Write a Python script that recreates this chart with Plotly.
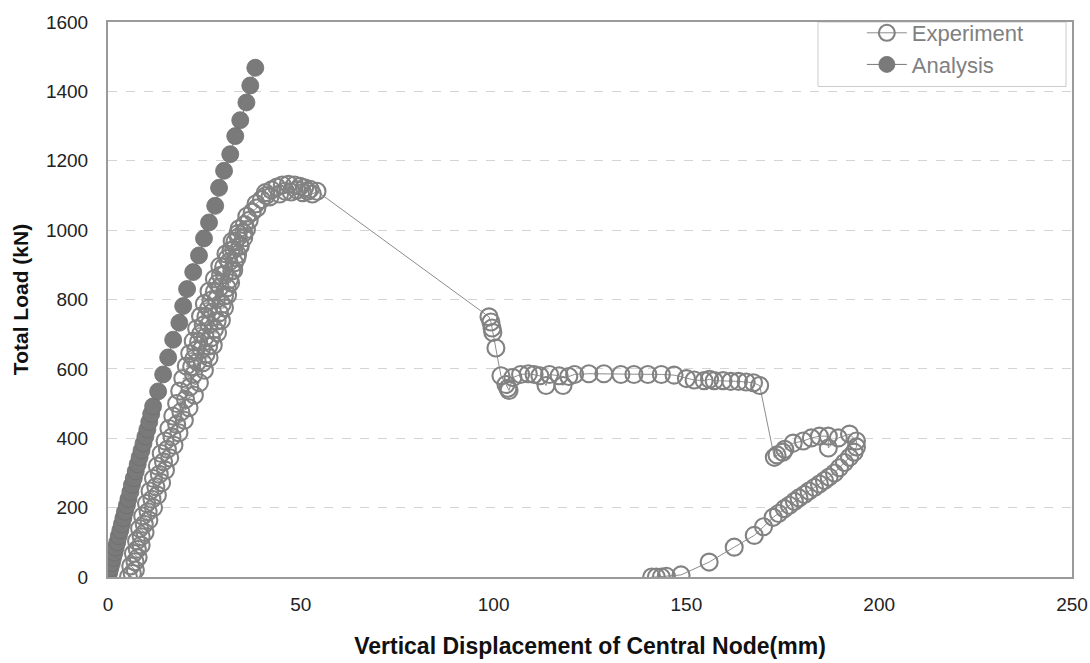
import plotly.graph_objects as go

# ---------------- data ----------------
exp_x = [5.3, 6.3, 7.1, 5.9, 7.0, 7.8, 6.6, 7.6, 8.6, 7.4, 8.6, 9.6, 8.2, 9.4, 10.6, 9.0, 10.4, 11.8,
         10.0, 11.4, 12.8, 10.9, 12.4, 13.9, 11.8, 13.3, 14.9, 12.8, 14.4, 16.0, 13.8, 15.4, 17.1,
         14.8, 16.6, 18.4, 15.8, 17.8, 19.8, 16.8, 18.9, 21.0, 17.8, 20.1, 22.4, 18.6, 21.2, 23.7,
         19.4, 22.2, 25.0,
         21.7, 20.3, 24.6, 23.2, 22.3, 26.2, 25.4, 21.2, 22.8, 24.2, 26.1, 27.3, 23.5, 22.1, 26.8, 25.2,
         24.1, 28.4, 27.6, 23.0, 24.7, 26.2, 28.3, 29.4, 25.4, 24.0, 28.9, 27.1, 26.1, 30.2, 29.6, 25.0,
         26.7, 28.1, 30.2, 31.0, 27.6, 26.2, 30.9, 29.1, 28.4, 31.8, 31.5, 27.6, 29.2, 30.2, 32.1, 32.6,
         30.0, 29.0, 32.8, 31.4, 30.9, 33.4, 33.6, 30.6, 31.9, 32.6, 34.3, 34.2, 32.9, 32.2, 35.2, 33.8,
         33.7, 35.2, 35.9, 34.0,
         35.4, 36.6, 36.0, 37.4, 38.6, 38.4, 39.8, 41.0,
         40.8, 42.0, 42.4, 43.8, 44.5, 45.2, 46.0, 46.8, 47.5, 48.4, 49.0, 49.8, 50.5, 51.0, 51.8, 52.4, 53.0, 54.2,
         98.8, 99.3, 99.6, 99.8, 100.6, 101.9, 103.2, 103.7, 104.0, 105.0, 107.0, 109.0, 110.5,
         112.0, 113.6, 114.5, 117.0, 118.0, 119.5, 121.0, 124.7, 128.6, 133.0, 136.4, 140.0,
         143.5, 146.8, 150.0, 152.0, 154.6, 156.0, 157.2, 159.5, 161.5, 163.5, 165.5, 167.4, 169.0,
         172.8, 173.5, 175.0, 175.5, 177.7, 180.3, 182.4, 184.5, 186.8, 186.8, 189.4, 192.3, 194.1,
         194.1, 193.5, 192.3, 191.0, 189.7, 188.4, 187.0, 185.8, 184.5, 183.2, 181.8, 180.6, 179.2,
         178.0, 176.7, 175.4, 173.9, 172.5, 170.0, 167.6, 162.4, 155.9, 148.6, 144.8, 143.5, 142.2, 141.0]
exp_y = [0, 10, 20, 32, 44, 56, 68, 80, 92, 104, 116, 128, 140, 152, 164, 176, 188, 200,
         212, 224, 236, 248, 260, 272, 284, 296, 308, 320, 332, 344, 356, 368, 380,
         392, 404, 416, 428, 440, 452, 464, 476, 488, 500, 512, 524, 536, 548, 560,
         572, 584, 596,
         606, 608, 618, 620, 630, 632, 642, 644, 654, 656, 666, 668, 678, 680, 690, 692,
         702, 704, 714, 716, 726, 728, 738, 740, 750, 752, 762, 764, 774, 776, 786, 788,
         798, 800, 810, 812, 822, 824, 834, 836, 846, 848, 858, 860, 870, 872, 882, 884,
         894, 896, 906, 908, 918, 920, 930, 932, 942, 944, 954, 956, 966, 968, 978, 980,
         990, 992, 1002, 1004,
         1016, 1028, 1040, 1052, 1064, 1076, 1088, 1100,
         1108, 1096, 1116, 1124, 1104, 1130, 1112, 1132, 1110, 1130, 1116, 1126, 1108, 1122, 1112, 1118, 1104, 1112,
         750, 735, 718, 705, 660, 580, 555, 544, 538, 575, 584, 586, 584,
         580, 552, 584, 580, 552, 578, 584, 586, 586, 584, 584, 584,
         584, 582, 572, 568, 566, 570, 566, 566, 564, 564, 562, 560, 552,
         345, 352, 360, 368, 386, 392, 401, 406, 406, 372, 401, 412, 392,
         375, 360, 345, 330, 315, 300, 288, 278, 268, 258, 248, 238, 228,
         218, 207, 197, 183, 172, 145, 120, 86, 43, 6, 2, 0, 0, 0]

ana_x = [0.0, 0.3, 0.6, 1.0, 1.3, 1.7, 2.0, 2.4, 2.8, 3.2, 3.6, 4.0, 4.4, 4.9, 5.3, 5.8, 6.2, 6.7,
         7.2, 7.7, 8.2, 8.7, 9.2, 9.7, 10.2, 10.7, 11.2, 11.7, 13.0, 14.3, 15.6, 16.9, 18.5, 19.5,
         20.5, 22.1, 23.6, 24.9, 26.2, 27.8, 28.8, 30.1, 31.7, 33.0, 34.3, 35.9, 36.9, 38.2]
ana_y = [0, 12, 25, 40, 55, 70, 85, 100, 118, 135, 152, 170, 188, 207, 225, 245, 265, 285,
         305, 325, 345, 365, 385, 405, 425, 447, 470, 492, 535, 584, 633, 684, 733, 781,
         830, 879, 927, 976, 1022, 1070, 1122, 1171, 1219, 1271, 1317, 1368, 1417, 1468]

x_ticks = [0, 50, 100, 150, 200, 250]
y_ticks = [0, 200, 400, 600, 800, 1000, 1200, 1400, 1600]

FONT = "Arial, Liberation Sans, sans-serif"

fig = go.Figure()
fig.add_trace(go.Scatter(
    x=exp_x, y=exp_y, name="Experiment", mode="lines+markers",
    line=dict(color="#8c8c8c", width=1),
    marker=dict(symbol="circle-open", size=17, color="#828282", line=dict(width=2.1, color="#828282")),
))
fig.add_trace(go.Scatter(
    x=ana_x, y=ana_y, name="Analysis", mode="lines+markers",
    line=dict(color="#777777", width=1),
    marker=dict(symbol="circle", size=17, color="#7a7a7a", line=dict(width=0.8, color="#6e6e6e")),
))

fig.update_layout(
    width=1090, height=663,
    margin=dict(l=108, r=18, t=18, b=86),
    paper_bgcolor="white", plot_bgcolor="white",
    font=dict(family=FONT, color="#222222"),
    showlegend=True,
    legend=dict(x=0.782, xanchor="left", y=1.018, yanchor="top",
                font=dict(size=22, color="#808080", family=FONT),
                bgcolor="rgba(0,0,0,0)", borderwidth=0,
                tracegroupgap=0, itemwidth=40),
    shapes=[dict(type="rect", xref="paper", yref="paper", x0=0.7365, x1=0.9938, y0=0.8837, y1=1.0,
                 line=dict(color="#cccccc", width=1), fillcolor="rgba(0,0,0,0)", layer="below")],
)
fig.update_xaxes(
    range=[0, 250], tickvals=x_ticks, showgrid=False, zeroline=False, automargin=False,
    showline=True, linecolor="#9a9a9a", linewidth=2, mirror=True,
    ticks="outside", ticklen=9, tickcolor="rgba(0,0,0,0)",
    tickfont=dict(size=19, family=FONT, color="#222222"),
    title=dict(text="<b>Vertical Displacement of Central Node(mm)</b>", font=dict(size=23, family=FONT, color="#111111"), standoff=24),
)
fig.update_yaxes(
    range=[0, 1600], tickvals=y_ticks, showgrid=True, gridcolor="#d4d4d4", griddash="dash", gridwidth=1,
    zeroline=False, automargin=False, showline=True, linecolor="#9a9a9a", linewidth=2, mirror=True,
    ticks="outside", ticklen=14, tickcolor="rgba(0,0,0,0)",
    tickfont=dict(size=19, family=FONT, color="#222222"),
    title=dict(text="<b>Total Load (kN)</b>", font=dict(size=21, family=FONT, color="#111111"), standoff=12),
)

fig.write_html("out.html")
